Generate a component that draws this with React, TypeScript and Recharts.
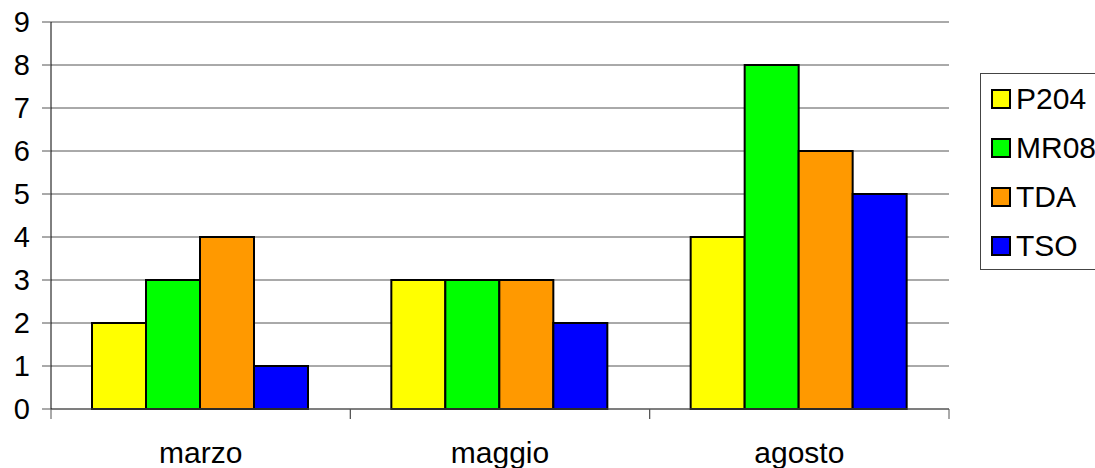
import { BarChart, Bar, XAxis, YAxis, CartesianGrid } from "recharts"

const months = ["marzo", "maggio", "agosto"]
const p204 = [2, 3, 4]
const mr08 = [3, 3, 8]
const tda = [4, 3, 6]
const tso = [1, 2, 5]
const yTicks = [0, 1, 2, 3, 4, 5, 6, 7, 8, 9]

const series = [
  { key: "P204", color: "#FFFF00" },
  { key: "MR08", color: "#00FF00" },
  { key: "TDA", color: "#FF9900" },
  { key: "TSO", color: "#0000FF" },
]

const data = months.map((m, i) => ({
  month: m,
  P204: p204[i],
  MR08: mr08[i],
  TDA: tda[i],
  TSO: tso[i],
}))

const W = 1095
const H = 468
const X_H = 30
const M = { top: 22, right: 146, bottom: 59 - X_H, left: 0 }
const Y_W = 51
const FONT = "'Liberation Sans', Arial, sans-serif"

// category tick: label in the middle, tick marks on the band edges
const MonthTick = (props: any) => {
  const { x, y, payload } = props
  const band = (W - M.left - M.right - Y_W) / months.length
  const y0 = y - 8 // axis line
  return (
    <g>
      <line x1={x - band / 2} y1={y0} x2={x - band / 2} y2={y0 + 10} stroke="#555" />
      <line x1={x + band / 2} y1={y0} x2={x + band / 2} y2={y0 + 10} stroke="#555" />
      <text x={x} y={y0 + 54} textAnchor="middle" fontSize={30} fontFamily={FONT} fill="#000">
        {payload.value}
      </text>
    </g>
  )
}

// legend drawn next to the chart, box runs off the right edge like the original
const LegendBox = () => (
  <div
    style={{
      position: "absolute",
      left: 980,
      top: 73,
      border: "1px solid #444",
      width: 130,
      height: 197,
      boxSizing: "border-box",
      padding: "0 0 0 10px",
      fontFamily: FONT,
      fontSize: 30,
      background: "#fff",
    }}
  >
    {series.map((s) => (
      <div key={s.key} style={{ display: "flex", alignItems: "center", height: 49 }}>
        <span
          style={{
            width: 16,
            height: 16,
            border: "2px solid #000",
            background: s.color,
            marginRight: 5,
            display: "inline-block",
            flex: "none",
          }}
        />
        <span style={{ lineHeight: "30px" }}>{s.key}</span>
      </div>
    ))}
  </div>
)

export default function App() {
  return (
    <div style={{ position: "absolute", left: 0, top: 0, width: W, height: H, overflow: "hidden", background: "#fff" }}>
      <BarChart width={W} height={H} data={data} margin={M} barGap={0} barCategoryGap={41}>
        <CartesianGrid vertical={false} stroke="#555" />
        <XAxis
          dataKey="month"
          height={X_H}
          axisLine={{ stroke: "#555" }}
          tickLine={false}
          tick={<MonthTick />}
          interval={0}
        />
        <YAxis
          width={Y_W}
          domain={[0, 9]}
          ticks={yTicks}
          interval={0}
          axisLine={{ stroke: "#000" }}
          tickLine={{ stroke: "#555" }}
          tickSize={9}
          tickMargin={12}
          tick={{ fill: "#000", fontSize: 29, fontFamily: FONT }}
        />
        {series.map((s) => (
          <Bar
            key={s.key}
            dataKey={s.key}
            fill={s.color}
            stroke="#000"
            strokeWidth={2}
            isAnimationActive={false}
          />
        ))}
      </BarChart>
      <LegendBox />
    </div>
  )
}
